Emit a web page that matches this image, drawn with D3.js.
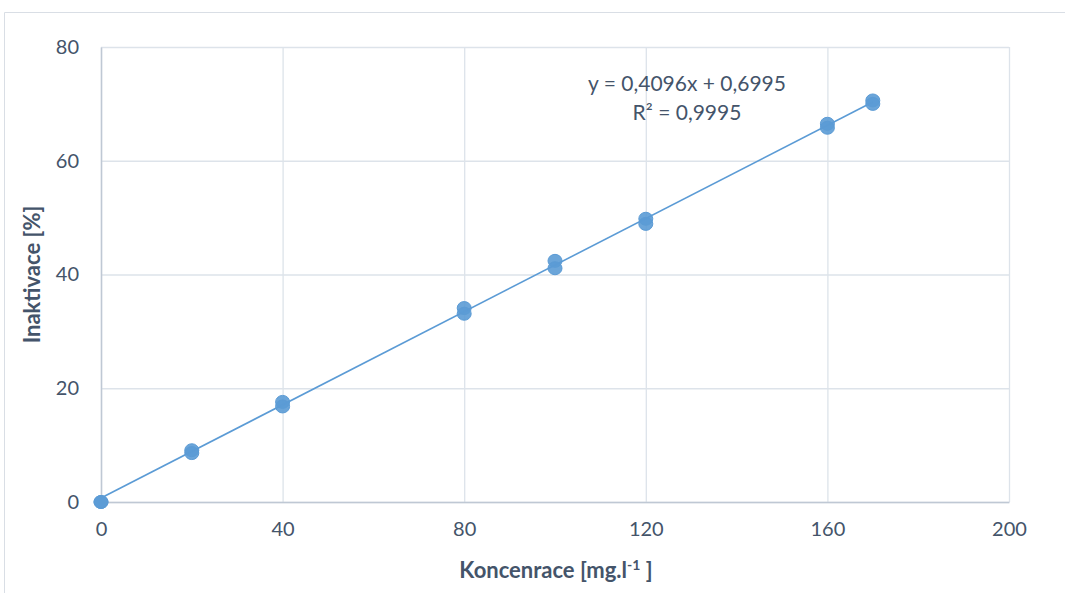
<!DOCTYPE html>
<html>
<head>
<meta charset="utf-8">
<script src="https://cdn.jsdelivr.net/npm/d3@7"></script>
<style>
  body { margin: 0; background: #fff; }
  #vis { width: 1065px; height: 593px; }
  text { font-family: Lato, "Open Sans", sans-serif; fill: #44546A; }
</style>
</head>
<body>
<div id="vis"></div>
<script>
// measured concentrations and replicate inactivation values
var conc = [0, 20, 40, 80, 100, 120, 160, 170];
var rep1 = [0, 9.1, 17.6, 34.1, 42.4, 49.8, 66.5, 70.6];
var rep2 = [0, 8.6, 16.8, 33.1, 41.1, 48.9, 65.8, 70.0];
var xTicks = [0, 40, 80, 120, 160, 200];
var yTicks = [0, 20, 40, 60, 80];
var slope = 0.4096, intercept = 0.6995;
var eqLines = ['y = 0,4096x + 0,6995', 'R² = 0,9995'];

var width = 1065, height = 593;
var margin = { top: 47, bottom: 91, left: 101, right: 56 };

var svg = d3.select('#vis')
    .append('svg')
    .attr('width', width)
    .attr('height', height);

// chart frame
svg.append('path')
    .attr('d', 'M4.5,' + height + 'V12.5H' + width)
    .attr('fill', 'none')
    .attr('stroke', '#D9DEE5');

var w = width - margin.left - margin.right;
var h = height - margin.top - margin.bottom;

var g = svg.append('g')
    .attr('transform', 'translate(' + margin.left + ',' + margin.top + ')');

var x_scale = d3.scaleLinear().domain([0, 200]).range([0, w]);
var y_scale = d3.scaleLinear().domain([0, 80]).range([h, 0]);

// grid
g.append('g').attr('class', 'grid')
    .attr('transform', 'translate(0,' + h + ')')
    .call(d3.axisBottom(x_scale).tickValues(xTicks).tickSize(-h).tickFormat(''))
    .call(function(s) {
        s.select('.domain').remove();
        s.selectAll('line').attr('stroke', '#DDE3EA').attr('stroke-width', 1.3);
    });

g.append('g').attr('class', 'grid')
    .call(d3.axisLeft(y_scale).tickValues(yTicks).tickSize(-w).tickFormat(''))
    .call(function(s) {
        s.select('.domain').remove();
        s.selectAll('line').attr('stroke', '#DDE3EA').attr('stroke-width', 1.3);
    });

// axes
var xAxis = g.append('g')
    .attr('transform', 'translate(0,' + h + ')')
    .call(d3.axisBottom(x_scale).tickValues(xTicks).tickSize(0).tickPadding(20));
xAxis.select('.domain').attr('stroke', '#BFC8D4').attr('stroke-width', 1.5);
xAxis.selectAll('text').style('font-size', '20px');

var yAxis = g.append('g')
    .call(d3.axisLeft(y_scale).tickValues(yTicks).tickSize(0).tickPadding(22));
yAxis.select('.domain').attr('stroke', '#BFC8D4').attr('stroke-width', 1.5);
yAxis.selectAll('text').style('font-size', '20px');

// points
var pts = [];
conc.forEach(function(c, i) {
    pts.push([c, rep1[i]]);
    pts.push([c, rep2[i]]);
});

g.selectAll('.pt')
    .data(pts)
    .enter()
    .append('ellipse')
    .attr('class', 'pt')
    .attr('cx', function(d) { return x_scale(d[0]); })
    .attr('cy', function(d) { return y_scale(d[1]); })
    .attr('rx', 7)
    .attr('ry', 6.5)
    .attr('fill', '#5B9BD5')
    .attr('fill-opacity', 0.9)
    .attr('stroke', '#5B9BD5')
    .attr('stroke-width', 1);

// trendline
var xMin = d3.min(conc), xMax = d3.max(conc);
g.append('line')
    .attr('x1', x_scale(xMin))
    .attr('y1', y_scale(slope * xMin + intercept))
    .attr('x2', x_scale(xMax))
    .attr('y2', y_scale(slope * xMax + intercept))
    .attr('stroke', '#5B9BD5')
    .attr('stroke-width', 1.6);

// equation label
var eq = g.append('text')
    .attr('text-anchor', 'middle')
    .style('font-size', '21px');
eq.selectAll('tspan')
    .data(eqLines)
    .enter()
    .append('tspan')
    .attr('x', 586)
    .attr('y', function(d, i) { return 44 + i * 29; })
    .text(function(d) { return d; });

// axis titles
var xt = svg.append('text')
    .attr('x', 556)
    .attr('y', 578)
    .attr('text-anchor', 'middle')
    .style('font-size', '22px')
    .style('font-weight', 'bold');
xt.append('tspan').text('Koncenrace [mg.l');
xt.append('tspan').attr('dy', -8).style('font-size', '14px').text('-1');
xt.append('tspan').attr('dy', 8).text(' ]');

svg.append('text')
    .attr('transform', 'translate(40,' + (margin.top + h / 2) + ') rotate(-90)')
    .attr('text-anchor', 'middle')
    .style('font-size', '22px')
    .style('font-weight', 'bold')
    .text('Inaktivace [%]');
</script>
</body>
</html>
